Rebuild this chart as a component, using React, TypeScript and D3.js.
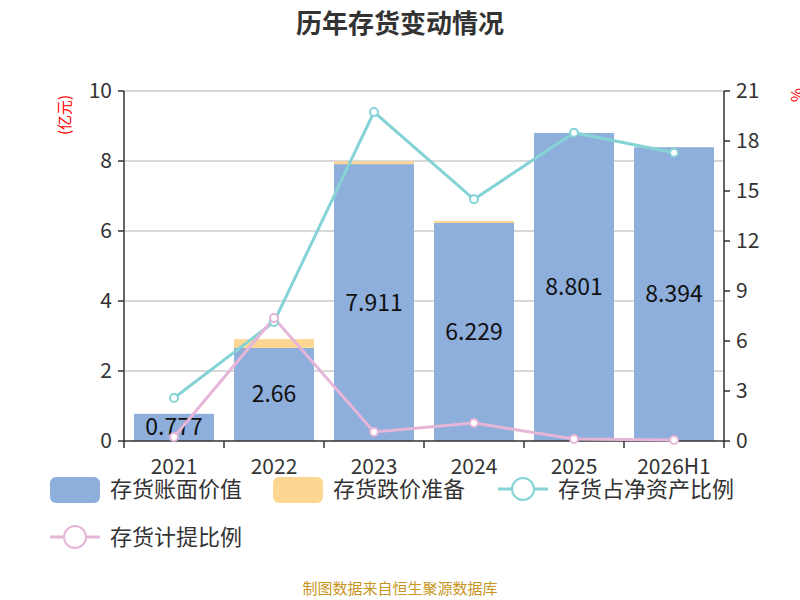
import React from "react";
import * as d3 from "d3";

const categories = ["2021", "2022", "2023", "2024", "2025", "2026H1"];
const bookValue = [0.777, 2.66, 7.911, 6.229, 8.801, 8.394];
const reserve = [0, 0.25, 0.08, 0.06, 0, 0];
const netAssetRatio = [2.58, 7.14, 19.74, 14.5, 18.5, 17.3];
const provisionRatio = [0.24, 7.38, 0.54, 1.08, 0.12, 0.06];
const leftTicks = [0, 2, 4, 6, 8, 10];
const rightTicks = [0, 3, 6, 9, 12, 15, 18, 21];

export default function App() {
  const L = 124, R = 724, T = 91, B = 441;
  const x = d3.scaleBand().domain(categories).range([L, R]).paddingInner(0.2).paddingOuter(0.1);
  const xc = d3.scaleBand().domain(categories).range([L, R]);
  const y = d3.scaleLinear().domain([0, 10]).range([B, T]);
  const y2 = d3.scaleLinear().domain([0, 21]).range([B, T]);
  const line = (vals: number[]) =>
    d3.line<number>().x((_, i) => xc(categories[i])! + xc.bandwidth() / 2).y((v) => y2(v))(vals)!;
  const font = "'Noto Sans CJK SC', 'Noto Sans', sans-serif";
  return (
    <svg width={800} height={600} style={{ position: "absolute", left: 0, top: 0 }} fontFamily={font}>
      <rect width={800} height={600} fill="#fff" />
      <text x={400} y={33} textAnchor="middle" fontSize={26} fontWeight="bold" fill="#333">历年存货变动情况</text>
      {leftTicks.map((t) => (
        <g key={t}>
          {t > 0 && <line x1={L} x2={R} y1={y(t)} y2={y(t)} stroke="#ccc" strokeWidth={1.5} />}
          <line x1={L - 6} x2={L} y1={y(t)} y2={y(t)} stroke="#333" strokeWidth={1.5} />
          <text x={L - 12} y={y(t) + 7} textAnchor="end" fontSize={21} fill="#333">{t}</text>
        </g>
      ))}
      {rightTicks.map((t) => (
        <g key={t}>
          <line x1={R} x2={R + 6} y1={y2(t)} y2={y2(t)} stroke="#333" strokeWidth={1.5} />
          <text x={R + 12} y={y2(t) + 7} fontSize={21} fill="#333">{t}</text>
        </g>
      ))}
      <text transform={`translate(70,115) rotate(-90)`} textAnchor="middle" fontSize={15} fill="red">(亿元)</text>
      <text transform={`translate(802,95) rotate(-90)`} textAnchor="middle" fontSize={15} fill="red">%</text>
      {categories.map((c, i) => (
        <g key={c}>
          <rect x={x(c)} y={y(bookValue[i])} width={x.bandwidth()} height={B - y(bookValue[i])} fill="#8eaedb" />
          {reserve[i] > 0 && <rect x={x(c)} y={y(bookValue[i] + reserve[i])} width={x.bandwidth()} height={y(bookValue[i]) - y(bookValue[i] + reserve[i])} fill="#fdd692" />}
          <text x={x(c)! + x.bandwidth() / 2} y={(y(bookValue[i]) + B) / 2 + 8} textAnchor="middle" fontSize={23} fill="#111">{bookValue[i]}</text>
        </g>
      ))}
      <line x1={L} x2={L} y1={T} y2={B} stroke="#333" strokeWidth={1.5} />
      <line x1={R} x2={R} y1={T} y2={B} stroke="#333" strokeWidth={1.5} />
      <line x1={L} x2={R} y1={B} y2={B} stroke="#333" strokeWidth={1.5} />
      {categories.map((c, i) => (
        <g key={c}>
          <line x1={xc(c)} x2={xc(c)} y1={B} y2={B + 7} stroke="#333" strokeWidth={1.5} />
          <text x={xc(c)! + xc.bandwidth() / 2} y={474} textAnchor="middle" fontSize={21} fill="#333">{c}</text>
        </g>
      ))}
      <line x1={R} x2={R} y1={B} y2={B + 7} stroke="#333" strokeWidth={1.5} />
      <path d={line(netAssetRatio)} fill="none" stroke="#86d3d6" strokeWidth={3} />
      <path d={line(provisionRatio)} fill="none" stroke="#e6b6d8" strokeWidth={3} />
      {netAssetRatio.map((v, i) => (
        <circle key={"a" + i} cx={xc(categories[i])! + xc.bandwidth() / 2} cy={y2(v)} r={4} fill="#fff" stroke="#86d3d6" strokeWidth={2} />
      ))}
      {provisionRatio.map((v, i) => (
        <circle key={"b" + i} cx={xc(categories[i])! + xc.bandwidth() / 2} cy={y2(v)} r={4} fill="#fff" stroke="#e6b6d8" strokeWidth={2} />
      ))}
      <rect x={50} y={477} width={50} height={26} rx={6} fill="#8eaedb" />
      <text x={110} y={497} fontSize={22} fill="#333">存货账面价值</text>
      <rect x={273} y={477} width={50} height={26} rx={6} fill="#fdd692" />
      <text x={333} y={497} fontSize={22} fill="#333">存货跌价准备</text>
      <line x1={498} x2={548} y1={489} y2={489} stroke="#86d3d6" strokeWidth={3} />
      <circle cx={523} cy={489} r={11} fill="#fff" stroke="#86d3d6" strokeWidth={2} />
      <text x={558} y={497} fontSize={22} fill="#333">存货占净资产比例</text>
      <line x1={50} x2={100} y1={537} y2={537} stroke="#e6b6d8" strokeWidth={3} />
      <circle cx={75} cy={537} r={11} fill="#fff" stroke="#e6b6d8" strokeWidth={2} />
      <text x={110} y={545} fontSize={22} fill="#333">存货计提比例</text>
      <text x={400} y={594} textAnchor="middle" fontSize={15} fill="#c8961e">制图数据来自恒生聚源数据库</text>
    </svg>
  );
}
